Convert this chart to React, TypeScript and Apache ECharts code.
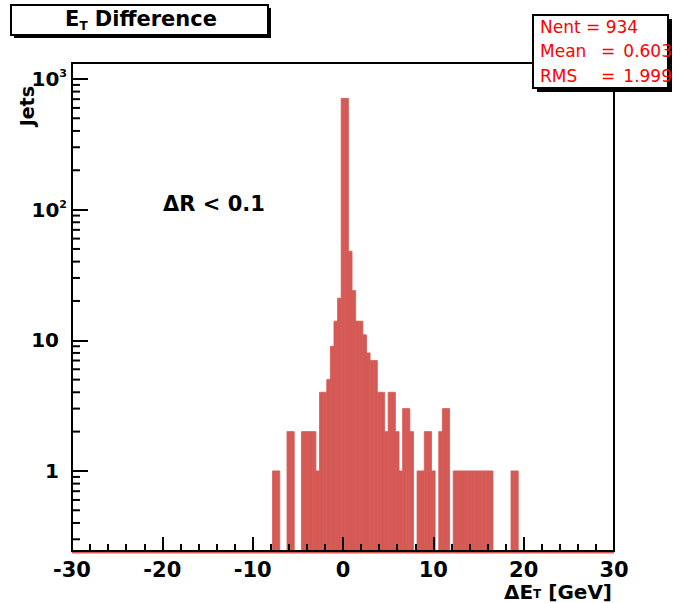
import React, { useEffect, useRef } from 'react';
import * as echarts from 'echarts';

// ---- axis ranges ----
const X_MIN = -30;
const X_MAX = 30;
const X_INTERVAL = 10;
const Y_MIN = 0.244;
const Y_MAX = 1324;
const BIN_HALF_WIDTH = 0.2;

// ---- histogram contents (non-empty bins) ----
const BIN_CENTERS = [
  -7.6, -7.2, -6.0, -5.6, -4.4, -4.0, -3.6, -3.2, -2.8, -2.4, -2.0, -1.6, -1.2, -0.8, -0.4,
  0.0, 0.4, 0.8, 1.2, 1.6, 2.0, 2.4, 2.8, 3.2, 3.6, 4.0, 4.4, 4.8, 5.2, 5.6, 6.0, 6.4,
  6.8, 7.2, 7.6, 8.4, 8.8, 9.2, 9.6, 10.0, 10.8, 11.2, 11.6,
  12.4, 12.8, 13.2, 13.6, 14.0, 14.4, 14.8, 15.2, 15.6, 16.0, 16.4, 18.8, 19.2,
];
const BIN_COUNTS = [
  1, 1, 2, 2, 2, 2, 2, 2, 1, 4, 4, 5, 9, 14, 21,
  710, 710, 48, 24, 14, 14, 11, 8, 7, 7, 4, 4, 2, 4, 4, 2, 1,
  3, 3, 2, 1, 1, 2, 2, 1, 2, 3, 3,
  1, 1, 1, 1, 1, 1, 1, 1, 1, 1, 1, 1, 1,
];

// ---- tick labels ----
const Y_DECADES = [1, 10, 100, 1000];
const Y_DECADE_BASES = ['1', '10', '10', '10'];
const Y_DECADE_EXPONENTS = ['', '', '2', '3'];
const Y_MINOR_TICKS = [
  0.3, 0.4, 0.5, 0.6, 0.7, 0.8, 0.9,
  2, 3, 4, 5, 6, 7, 8, 9,
  20, 30, 40, 50, 60, 70, 80, 90,
  200, 300, 400, 500, 600, 700, 800, 900,
];

// ---- stats box ----
const STAT_ENTRIES = '934';
const STAT_LABELS = ['Mean', 'RMS'];
const STAT_VALUES = ['0.603', '1.999'];

const FONT = 'DejaVu Sans';
const BAR_COLOR = '#d55a55';
const STAT_COLOR = '#ff0000';

export default function App() {
  const ref = useRef<HTMLDivElement>(null);

  useEffect(() => {
    if (!ref.current) return;
    const chart = echarts.init(ref.current, undefined, { renderer: 'svg' });

    const barData = BIN_CENTERS.map((c, i) => [c, BIN_COUNTS[i]]);

    const boldRich = (size: number) => ({
      fontFamily: FONT,
      fontWeight: 'bold' as const,
      fontSize: size,
      fill: '#000',
    });

    const option: any = {
      animation: false,
      backgroundColor: '#fff',
      grid: {
        left: 72,
        right: 70,
        top: 63,
        bottom: 52,
        show: true,
        borderColor: '#000',
        borderWidth: 2,
        backgroundColor: 'transparent',
      },
      xAxis: {
        type: 'value',
        min: X_MIN,
        max: X_MAX,
        interval: X_INTERVAL,
        z: 10,
        axisLine: { show: true, onZero: false, lineStyle: { color: '#000', width: 2 } },
        axisTick: { show: true, inside: true, length: 14, lineStyle: { color: '#000', width: 2 } },
        minorTick: { show: true, splitNumber: 5, length: 7, lineStyle: { color: '#000', width: 2 } },
        splitLine: { show: false },
        axisLabel: {
          margin: 10,
          fontFamily: FONT,
          fontWeight: 'bold',
          fontSize: 21,
          lineHeight: 17,
          color: '#000',
        },
      },
      yAxis: {
        type: 'log',
        logBase: 10,
        min: Y_MIN,
        max: Y_MAX,
        z: 10,
        axisLine: { show: true, onZero: false, lineStyle: { color: '#000', width: 2 } },
        axisTick: { show: true, inside: true, length: 16, lineStyle: { color: '#000', width: 2 } },
        splitLine: { show: false },
        axisLabel: {
          margin: 5,
          showMinLabel: false,
          showMaxLabel: false,
          formatter: (v: number) => {
            const idx = Y_DECADES.findIndex((d) => Math.abs(d - v) / d < 1e-6);
            if (idx < 0) return '';
            const exp = Y_DECADE_EXPONENTS[idx];
            return exp ? `{b|${Y_DECADE_BASES[idx]}}{s|${exp}}` : `{b|${Y_DECADE_BASES[idx]}}{p|}`;
          },
          rich: {
            b: { fontFamily: FONT, fontWeight: 'bold', fontSize: 20, color: '#000', lineHeight: 22 },
            s: { fontFamily: FONT, fontWeight: 'bold', fontSize: 11, color: '#000', verticalAlign: 'top', lineHeight: 11 },
            p: { width: 8 },
          },
        },
      },
      series: [
        {
          type: 'custom',
          name: 'hist',
          coordinateSystem: 'cartesian2d',
          data: barData,
          encode: { x: 0, y: 1 },
          z: 2,
          silent: true,
          renderItem: (params: any, api: any) => {
            const c = api.value(0);
            const v = api.value(1);
            const p1 = api.coord([c - BIN_HALF_WIDTH, v]);
            const p2 = api.coord([c + BIN_HALF_WIDTH, Y_MIN]);
            return {
              type: 'rect',
              shape: { x: p1[0], y: p1[1], width: p2[0] - p1[0], height: p2[1] - p1[1] },
              style: { fill: BAR_COLOR, stroke: BAR_COLOR, lineWidth: 0.8 },
            };
          },
        },
        {
          // empty bins drawn at the bottom edge of the log frame
          type: 'custom',
          name: 'baseline',
          coordinateSystem: 'cartesian2d',
          data: [[X_MIN, Y_MIN]],
          z: 1,
          silent: true,
          renderItem: (params: any, api: any) => {
            const a = api.coord([X_MIN, Y_MIN]);
            const b = api.coord([X_MAX, Y_MIN]);
            return {
              type: 'line',
              shape: { x1: a[0], y1: a[1] + 1.5, x2: b[0], y2: b[1] + 1.5 },
              style: { stroke: BAR_COLOR, lineWidth: 2 },
            };
          },
        },
        {
          type: 'custom',
          name: 'yminor',
          coordinateSystem: 'cartesian2d',
          data: Y_MINOR_TICKS.map((v) => [X_MIN, v]),
          z: 11,
          silent: true,
          renderItem: (params: any, api: any) => {
            const p = api.coord([api.value(0), api.value(1)]);
            return {
              type: 'line',
              shape: { x1: p[0], y1: p[1], x2: p[0] + 8, y2: p[1] },
              style: { stroke: '#000', lineWidth: 2 },
            };
          },
        },
      ],
      graphic: [
        // Title box
        { type: 'rect', z: 100, shape: { x: 14, y: 8, width: 257, height: 30 }, style: { fill: '#000' } },
        { type: 'rect', z: 101, shape: { x: 11, y: 5, width: 257, height: 30 }, style: { fill: '#fff', stroke: '#000', lineWidth: 2 } },
        {
          type: 'text',
          z: 102,
          x: 141,
          y: 20,
          style: {
            text: '{b|E}{sub|T}{b| Difference}',
            align: 'center',
            verticalAlign: 'middle',
            textAlign: 'center',
            textVerticalAlign: 'middle',
            rich: {
              b: { ...boldRich(21), lineHeight: 24, verticalAlign: 'top' },
              sub: { ...boldRich(12), lineHeight: 12, verticalAlign: 'bottom', padding: [14, 0, 0, 0] },
            },
          },
        },
        // Stats box
        { type: 'rect', z: 100, shape: { x: 537, y: 19, width: 135, height: 73 }, style: { fill: '#000' } },
        { type: 'rect', z: 101, shape: { x: 533, y: 15, width: 135, height: 73 }, style: { fill: '#fff', stroke: '#000', lineWidth: 2 } },
        {
          type: 'text', z: 102, x: 540, y: 27,
          style: { text: `Nent = ${STAT_ENTRIES}`, fill: STAT_COLOR, fontFamily: FONT, fontSize: 17, align: 'left', verticalAlign: 'middle', textAlign: 'left', textVerticalAlign: 'middle' },
        },
        ...STAT_LABELS.flatMap((lab, i) => {
          const y = 51 + i * 25;
          return [
            { type: 'text', z: 102, x: 540, y, style: { text: lab, fill: STAT_COLOR, fontFamily: FONT, fontSize: 17, align: 'left', verticalAlign: 'middle', textAlign: 'left', textVerticalAlign: 'middle' } },
            { type: 'text', z: 102, x: 601, y, style: { text: '=', fill: STAT_COLOR, fontFamily: FONT, fontSize: 17, align: 'left', verticalAlign: 'middle', textAlign: 'left', textVerticalAlign: 'middle' } },
            { type: 'text', z: 102, x: 672, y, style: { text: STAT_VALUES[i], fill: STAT_COLOR, fontFamily: FONT, fontSize: 17, align: 'right', verticalAlign: 'middle', textAlign: 'right', textVerticalAlign: 'middle' } },
          ];
        }),
        // Annotation
        {
          type: 'text', z: 50, x: 163, y: 204,
          style: { text: 'ΔR < 0.1', fill: '#000', fontFamily: FONT, fontWeight: 'bold', fontSize: 21, align: 'left', verticalAlign: 'middle', textAlign: 'left', textVerticalAlign: 'middle' },
        },
        // X axis title
        {
          type: 'text', z: 50, x: 612, y: 591,
          style: {
            text: '{b|ΔE}{sub|T}{b| [GeV]}',
            align: 'right',
            verticalAlign: 'middle',
            textAlign: 'right',
            textVerticalAlign: 'middle',
            rich: {
              b: { ...boldRich(20), lineHeight: 18, verticalAlign: 'top' },
              sub: { ...boldRich(12), lineHeight: 10, verticalAlign: 'bottom', padding: [12, 0, 0, 0] },
            },
          },
        },
        // Y axis title
        {
          type: 'text', z: 50, x: 27, y: 86, rotation: Math.PI / 2,
          style: { text: 'Jets', fill: '#000', fontFamily: FONT, fontWeight: 'bold', fontSize: 19, align: 'right', verticalAlign: 'middle', textAlign: 'right', textVerticalAlign: 'middle' },
        },
      ],
    };

    chart.setOption(option);
    return () => chart.dispose();
  }, []);

  return (
    <div
      ref={ref}
      style={{ position: 'fixed', left: 0, top: 0, width: 684, height: 603, background: '#fff' }}
    />
  );
}
